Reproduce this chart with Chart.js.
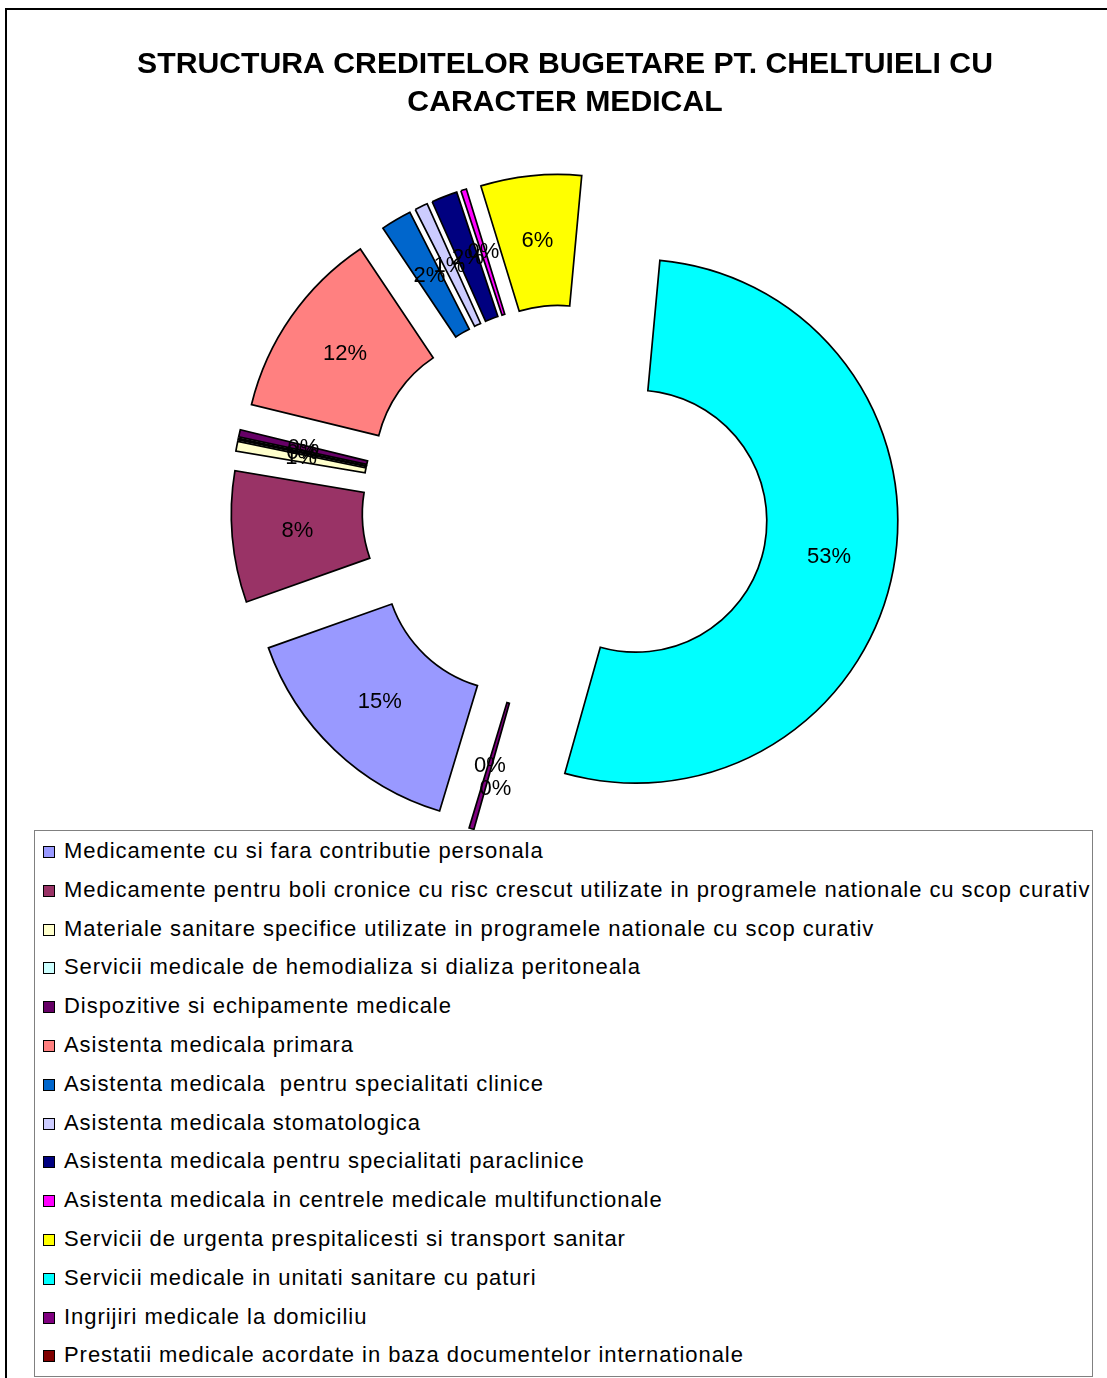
<!DOCTYPE html>
<html lang="ro">
<head>
<meta charset="UTF-8" />
<title>Structura creditelor bugetare</title>
<script src="https://cdn.jsdelivr.net/npm/chart.js"></script>
<style>
  html, body { margin: 0; padding: 0; background: #fff; }
  body { width: 1107px; height: 1378px; position: relative; overflow: hidden; font-family: "Liberation Sans", Arial, sans-serif; }
  #cadru { position: absolute; left: 5px; top: 8px; width: 1300px; height: 1500px; border-top: 2px solid #000; border-left: 2px solid #000; }
  #grafic { position: absolute; left: 0; top: 0; }
  #legenda { position: absolute; left: 34px; top: 830px; width: 1057px; height: 544px; border: 1px solid #808080; background: #fff; z-index: 2; overflow: hidden; padding-top: 1px; box-sizing: content-box; }
  .item { height: 38.8px; line-height: 38.8px; font-size: 22px; letter-spacing: 0.95px; white-space: pre; color: #000; }
  .patrat { display: inline-block; width: 12px; height: 12px; box-sizing: border-box; border: 1px solid #000; margin-left: 8px; margin-right: 9px; vertical-align: baseline; }
</style>
</head>
<body>
  <div id="cadru"></div>
  <canvas id="grafic" width="1107" height="1378"></canvas>
  <div id="legenda"></div>

<script>
  // datele graficului
  const categorii = [
    "Medicamente cu si fara contributie personala",
    "Medicamente pentru boli cronice cu risc crescut utilizate in programele nationale cu scop curativ",
    "Materiale sanitare specifice utilizate in programele nationale cu scop curativ",
    "Servicii medicale de hemodializa si dializa peritoneala",
    "Dispozitive si echipamente medicale",
    "Asistenta medicala primara",
    "Asistenta medicala  pentru specialitati clinice",
    "Asistenta medicala stomatologica",
    "Asistenta medicala pentru specialitati paraclinice",
    "Asistenta medicala in centrele medicale multifunctionale",
    "Servicii de urgenta prespitalicesti si transport sanitar",
    "Servicii medicale in unitati sanitare cu paturi",
    "Ingrijiri medicale la domiciliu",
    "Prestatii medicale acordate in baza documentelor internationale"
  ];
  const valori = [14.9, 8.1, 0.6, 0.1, 0.45, 11.8, 1.9, 0.8, 1.6, 0.35, 6.2, 52.9, 0.3, 0];
  const culori = [
    "#9999FF", "#993366", "#FFFFCC", "#CCFFFF", "#660066", "#FF8080", "#0066CC",
    "#CCCCFF", "#000080", "#FF00FF", "#FFFF00", "#00FFFF", "#800080", "#800000"
  ];
  const titlu = ["STRUCTURA CREDITELOR BUGETARE PT. CHELTUIELI CU", "CARACTER MEDICAL"];

  const FONT = '"Liberation Sans", Arial, sans-serif';
  const DEPARTARE = 72; // cat de mult sunt scoase feliile din centru (px)

  // fiecare felie e mutata in afara pe directia ei (explodare ca in Excel)
  const explodare = {
    id: "explodare",
    afterDatasetUpdate(chart, args) {
      args.meta.data.forEach(function (arc) {
        const mij = (arc.startAngle + arc.endAngle) / 2;
        arc.x += Math.cos(mij) * DEPARTARE;
        arc.y += Math.sin(mij) * DEPARTARE;
      });
    }
  };

  // procentele scrise pe felii
  const etichete = {
    id: "etichete",
    afterDatasetsDraw(chart) {
      const ctx = chart.ctx;
      const meta = chart.getDatasetMeta(0);
      const total = valori.reduce((a, b) => a + b, 0);
      ctx.save();
      ctx.font = "22px " + FONT;
      ctx.fillStyle = "#000";
      ctx.textAlign = "center";
      ctx.textBaseline = "middle";
      meta.data.forEach(function (arc, i) {
        let { x, y } = arc.getCenterPoint();
        // felia de 0% cade peste vecina: eticheta ei coboara putin
        if (valori[i] === 0) {
          x += 8;
          y += 24;
        }
        const pct = Math.round(valori[i] * 100 / total + 1e-9);
        ctx.fillText(pct + "%", x, y);
      });
      ctx.restore();
    }
  };

  new Chart(document.getElementById("grafic"), {
    type: "doughnut",
    data: {
      labels: categorii,
      datasets: [{
        data: valori,
        backgroundColor: culori,
        borderColor: "#000",
        borderWidth: 1.7,
        borderJoinStyle: "miter"
      }]
    },
    options: {
      responsive: false,
      animation: false,
      rotation: -163.2,
      radius: 262,
      cutout: "50%",
      layout: { padding: { left: 23, right: 0, top: 0, bottom: 484 } },
      plugins: {
        legend: { display: false },
        tooltip: { enabled: false },
        title: {
          display: true,
          text: titlu,
          color: "#000",
          font: { family: FONT, size: 30.2, weight: "bold", lineHeight: 1.26 },
          padding: { top: 46, bottom: 0 }
        }
      }
    },
    plugins: [explodare, etichete]
  });

  // legenda, cate un rand pentru fiecare categorie
  const legenda = document.getElementById("legenda");
  categorii.forEach(function (nume, i) {
    const rand = document.createElement("div");
    rand.className = "item";
    const patrat = document.createElement("span");
    patrat.className = "patrat";
    patrat.style.background = culori[i];
    rand.appendChild(patrat);
    rand.appendChild(document.createTextNode(nume));
    legenda.appendChild(rand);
  });
</script>
</body>
</html>
